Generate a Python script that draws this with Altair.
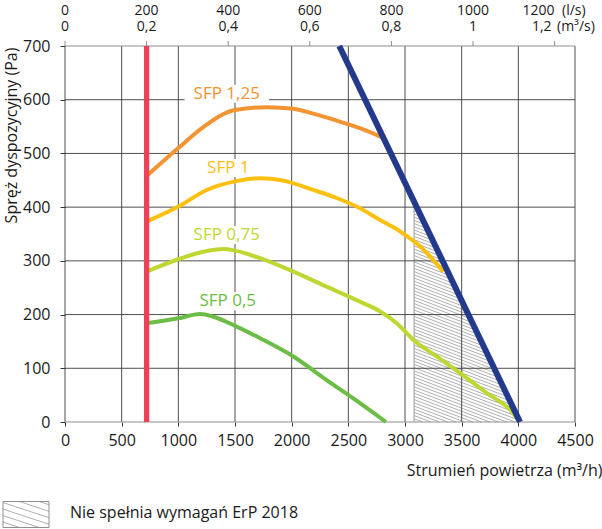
import altair as alt
import pandas as pd

FONT = "Open Sans"
X_MAX, Y_MAX = 4500, 700
W, H = 510, 376

x_ticks = list(range(0, 4501, 500))
y_ticks = list(range(0, 701, 100))

# secondary scales along the top edge (1 l/s = 3.6 m3/h)
ls_values = [0, 200, 400, 600, 800, 1000, 1200]
ls_labels = ["0", "200", "400", "600", "800", "1000", "1200"]
m3s_labels = ["0", "0,2", "0,4", "0,6", "0,8", "1", "1,2"]

# SFP iso-lines: airflow (m3/h) and available pressure (Pa)
sfp125_x = [720, 1000, 1220, 1500, 1780, 2015, 2191, 2397, 2603, 2806]
sfp125_y = [458, 510, 549, 581, 586, 583, 574, 561, 547, 529]
sfp1_x = [720, 1000, 1250, 1500, 1721, 1956, 2191, 2397, 2603, 2780, 2956, 3132, 3338]
sfp1_y = [373, 401, 432, 448, 454, 448, 432, 417, 398, 376, 355, 327, 280]
sfp075_x = [720, 1000, 1220, 1397, 1500, 1721, 2015, 2309, 2603, 2780, 2927, 3073,
            3280, 3485, 3721, 3956, 4010]
sfp075_y = [280, 303, 317, 322, 319, 305, 280, 252, 224, 206, 184, 153,
            122, 91, 54, 16, 0]
sfp05_x = [720, 1000, 1191, 1309, 1500, 1721, 2015, 2309, 2603, 2832]
sfp05_y = [184, 193, 201, 196, 179, 156, 122, 78, 35, 0]

sfp_names = ["SFP 1,25", "SFP 1", "SFP 0,75", "SFP 0,5"]
sfp_colors = ["#f39433", "#fdc010", "#bfd730", "#6bbd45"]
sfp_label_x = [1427, 1441, 1427, 1436]
sfp_label_y = [611, 473, 348, 225]

# working range limits
min_flow_x = [720, 720]
min_flow_y = [0, 700]
max_line_x = [2420, 4015]
max_line_y = [700, 0]

# area that does not meet ErP 2018 starts here
erp_limit_x = 3080
legend_text = "Nie spełnia wymagań ErP 2018"

ux = W / X_MAX   # pixels per m3/h
vy = H / Y_MAX   # pixels per Pa

# ---------- data frames ----------
curves = pd.concat([
    pd.DataFrame({"flow": xs, "pa": ys, "sfp": name, "order": range(len(xs))})
    for name, xs, ys in zip(sfp_names, [sfp125_x, sfp1_x, sfp075_x, sfp05_x],
                            [sfp125_y, sfp1_y, sfp075_y, sfp05_y])
])
labels = pd.DataFrame({"flow": sfp_label_x, "pa": sfp_label_y, "sfp": sfp_names})
# white plate behind each caption, sized from the caption length
half_w = labels["sfp"].str.len() * 4.9 + 3
labels["f0"] = labels["flow"] - half_w / ux
labels["f1"] = labels["flow"] + half_w / ux
labels["p0"] = labels["pa"] - 9 / vy
labels["p1"] = labels["pa"] + 9 / vy

min_df = pd.DataFrame({"flow": min_flow_x, "pa": min_flow_y})
max_df = pd.DataFrame({"flow": max_line_x, "pa": max_line_y})
top_df = pd.DataFrame({"flow": [v * 3.6 for v in ls_values], "ls": ls_labels, "m3s": m3s_labels,
                       "last": [i == len(ls_values) - 1 for i in range(len(ls_values))]})

# grid drawn as marks so it stays visible over the hatching
vgrid = pd.DataFrame({"flow": x_ticks, "pa": 0, "pa2": Y_MAX})
hgrid = pd.DataFrame({"pa": y_ticks[1:-1], "flow": 0, "flow2": X_MAX})
frame = pd.DataFrame({"pa": [y_ticks[0], y_ticks[-1]], "flow": 0, "flow2": X_MAX})

# hatch lines of the ErP region, built in pixel proportions so the
# stripes keep one angle, then converted back to data units
SLOPE, GAP = 0.38, 3.2
u1, v1 = max_line_x[0] * ux, max_line_y[0] * vy
u2, v2 = max_line_x[1] * ux, max_line_y[1] * vy
b1 = (v1 - v2) / (u2 - u1)
b0 = v2 + b1 * u2
uL = erp_limit_x * ux
top_at_left = b0 - b1 * uL
hatch = []
k = 1
while k * GAP < top_at_left:
    c = SLOPE * uL + k * GAP
    u_end = min(c / SLOPE, (b0 - c) / (b1 - SLOPE))
    hatch.append({"flow": erp_limit_x, "pa": (c - SLOPE * uL) / vy,
                  "flow2": u_end / ux, "pa2": (c - SLOPE * u_end) / vy})
    k += 1
hatch_df = pd.DataFrame(hatch)
edge_df = pd.DataFrame({"flow": [erp_limit_x], "pa": [0], "pa2": [top_at_left / vy]})

# legend key (pixels, relative to the plot's top-left corner)
KX0, KX1, KY0, KY1 = -62, -16, 455.5, 481.5
KS, KG = 0.33, 6.5
key_lines = []
c = KY0 - KS * (KX1 - KX0) + KG / 2
while c < KY1:
    xa = max(KX0, KX0 + (KY0 - c) / KS)
    xb = min(KX1, KX0 + (KY1 - c) / KS)
    if xb > xa:
        key_lines.append({"px": xa, "py": c + KS * (xa - KX0),
                          "px2": xb, "py2": c + KS * (xb - KX0)})
    c += KG
key_df = pd.DataFrame(key_lines)
one = pd.DataFrame({"a": [0]})

# ---------- encodings ----------
GRID = "#3a3a3a"
EDGE = "#8f8f8f"
xs = alt.Scale(domain=[0, X_MAX], nice=False, zero=False)
ys = alt.Scale(domain=[0, Y_MAX], nice=False, zero=False)
color = alt.Color("sfp:N", scale=alt.Scale(domain=sfp_names, range=sfp_colors), legend=None)

x_axis = alt.Axis(values=x_ticks, format="d", labelOverlap=False, labelFlush=False,
                  grid=False, domain=False, tickColor=GRID, tickSize=4,
                  labelFont=FONT, labelFontSize=16, labelColor="#1a1a1a", labelPadding=6,
                  title="Strumień powietrza (m³/h)", titleFont=FONT, titleFontSize=16,
                  titleFontWeight="normal", titleColor="#1a1a1a", titleAnchor="end",
                  titleAlign="right", titleBaseline="middle", titleX=537, titleY=48)
y_axis = alt.Axis(values=y_ticks, format="d", labelOverlap=False, labelFlush=False,
                  grid=False, domain=False, tickColor=GRID, tickSize=5,
                  labelFont=FONT, labelFontSize=16, labelColor="#1a1a1a", labelPadding=10,
                  labelBaseline="middle",
                  title="Spręż dyspozycyjny (Pa)", titleFont=FONT, titleFontSize=16,
                  titleFontWeight="normal", titleColor="#1a1a1a", titleAngle=270,
                  titleAlign="center", titleBaseline="middle", titleX=-54, titleY=89)

base_x = alt.X("flow:Q", scale=xs, axis=x_axis)
base_y = alt.Y("pa:Q", scale=ys, axis=y_axis)

hatch_layer = alt.Chart(hatch_df).mark_rule(color="#8c8c8c", strokeWidth=0.7).encode(
    x=base_x, y=base_y, x2="flow2:Q", y2="pa2:Q")
edge_layer = alt.Chart(edge_df).mark_rule(color="#9a9a9a", strokeWidth=1).encode(
    x="flow:Q", y="pa:Q", y2="pa2:Q")

vgrid_layer = alt.Chart(vgrid).mark_rule(color=GRID, strokeWidth=0.9).encode(
    x="flow:Q", y="pa:Q", y2="pa2:Q")
hgrid_layer = alt.Chart(hgrid).mark_rule(color=GRID, strokeWidth=0.9).encode(
    y="pa:Q", x="flow:Q", x2="flow2:Q")
frame_layer = alt.Chart(frame).mark_rule(color=EDGE, strokeWidth=1.2).encode(
    y="pa:Q", x="flow:Q", x2="flow2:Q")

curve_layer = alt.Chart(curves).mark_line(strokeWidth=4, interpolate="monotone").encode(
    x="flow:Q", y="pa:Q", color=color, order="order:Q", detail="sfp:N")

min_layer = alt.Chart(min_df).mark_line(color="#ee4056", strokeWidth=5.3).encode(
    x="flow:Q", y="pa:Q")
max_layer = alt.Chart(max_df).mark_line(color="#233a8c", strokeWidth=6).encode(
    x="flow:Q", y="pa:Q")

label_plate = alt.Chart(labels).mark_rect(fill="white", stroke=None).encode(
    x="f0:Q", x2="f1:Q", y="p0:Q", y2="p1:Q")
label_text = alt.Chart(labels).mark_text(font=FONT, fontSize=17).encode(
    x="flow:Q", y="pa:Q", text="sfp:N", color=color)

top = alt.Chart(top_df)
top_ticks = top.mark_rule(color=EDGE, strokeWidth=1).encode(
    x="flow:Q", y=alt.value(0), y2=alt.value(-5))
top_txt = dict(font=FONT, fontSize=14, color="#1a1a1a", baseline="alphabetic")
ROW1, ROW2 = -31, -15
top_ls = top.transform_filter("!datum.last").mark_text(**top_txt).encode(
    x="flow:Q", y=alt.value(ROW1), text="ls:N")
top_m3s = top.transform_filter("!datum.last").mark_text(**top_txt).encode(
    x="flow:Q", y=alt.value(ROW2), text="m3s:N")
top_ls_last = top.transform_filter("datum.last").mark_text(align="right", **top_txt).encode(
    x="flow:Q", y=alt.value(ROW1), text="ls:N")
top_m3s_last = top.transform_filter("datum.last").mark_text(align="right", dx=-3, **top_txt).encode(
    x="flow:Q", y=alt.value(ROW2), text="m3s:N")
unit_ls = alt.Chart(one).mark_text(align="left", text="(l/s)", **top_txt).encode(
    x=alt.value(497), y=alt.value(ROW1))
unit_m3s = alt.Chart(one).mark_text(align="left", text="(m³/s)", **top_txt).encode(
    x=alt.value(492), y=alt.value(ROW2))

key_box = alt.Chart(one).mark_rect(fill="white", stroke=EDGE, strokeWidth=1).encode(
    x=alt.value(KX0), x2=alt.value(KX1), y=alt.value(KY0), y2=alt.value(KY1))
key_hatch = alt.Chart(key_df).mark_rule(color="#8c8c8c", strokeWidth=0.7).encode(
    x=alt.X("px:Q", scale=None), y=alt.Y("py:Q", scale=None),
    x2="px2:Q", y2="py2:Q")
key_text = alt.Chart(one).mark_text(align="left", baseline="middle", font=FONT, fontSize=16,
                                    color="#1a1a1a", text=legend_text).encode(
    x=alt.value(5), y=alt.value(466.5))

chart = alt.layer(
    hatch_layer, edge_layer, vgrid_layer, hgrid_layer, frame_layer,
    label_plate, label_text,
    curve_layer, min_layer, max_layer,
    top_ticks, top_ls, top_m3s, top_ls_last, top_m3s_last, unit_ls, unit_m3s,
    key_box, key_hatch, key_text,
).properties(
    width=W, height=H,
    autosize=alt.AutoSizeParams(type="none"),
    padding={"left": 65, "top": 46, "right": 27, "bottom": 107},
    background="white",
).configure_view(stroke=None)

chart.save("out.html", embed_options={"renderer": "svg", "actions": False})
